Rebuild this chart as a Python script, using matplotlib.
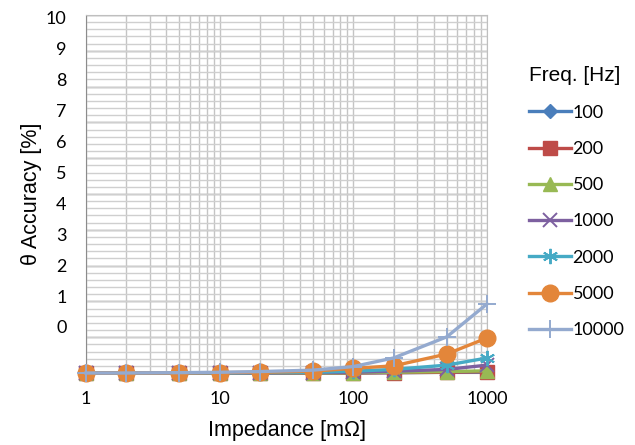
import numpy as np
import matplotlib
matplotlib.use("Agg")
import matplotlib.pyplot as plt
from matplotlib.ticker import LogLocator, MultipleLocator, NullFormatter

# impedance points [mOhm]
impedance = [1, 2, 5, 10, 20, 50, 100, 200, 500, 1000]

# theta accuracy [%] for each frequency
freqs = ["100", "200", "500", "1000", "2000", "5000", "10000"]
acc_100 = [0, 0, 0, 0, 0, 0, 0, 0.01, 0.02, 0.03]
acc_200 = [0, 0, 0, 0, 0, 0, 0, 0.01, 0.02, 0.04]
acc_500 = [0, 0, 0, 0, 0, 0, 0.01, 0.02, 0.04, 0.06]
acc_1000 = [0, 0, 0, 0, 0, 0.01, 0.02, 0.05, 0.1, 0.22]
acc_2000 = [0, 0, 0, 0, 0.01, 0.02, 0.05, 0.1, 0.22, 0.42]
acc_5000 = [0, 0, 0, 0.01, 0.02, 0.05, 0.13, 0.2, 0.53, 0.98]
acc_10000 = [0, 0, 0.01, 0.02, 0.04, 0.08, 0.18, 0.42, 1.01, 1.93]
series = [acc_100, acc_200, acc_500, acc_1000, acc_2000, acc_5000, acc_10000]

y_labels = ["0", "1", "2", "3", "4", "5", "6", "7", "8", "9", "10"]

colors = ["#4A7EBB", "#BE4B48", "#98B954", "#7D60A0", "#46AAC5", "#E3863A", "#94AACF"]
markers = ["D", "s", "^", "x", (6, 2, 0), "o", "+"]
msizes = [7, 10, 10, 10, 11, 12, 13]

tick_font = "Lato"
label_font = "Liberation Sans"

fig = plt.figure(figsize=(6.35, 4.45), dpi=100)
ax = fig.add_axes([0.1354, 0.1618, 0.6316, 0.8045])

for vals, name, c, m, ms in zip(series, freqs, colors, markers, msizes):
    kw = dict(marker=m, markersize=ms, color=c, linewidth=2.4, label=name, clip_on=False, zorder=3)
    if m in ("x", "+") or isinstance(m, tuple):
        kw["markeredgewidth"] = 1.4
    ax.plot(impedance, vals, **kw)

ax.set_xscale("log")
ax.set_xlim(1, 1000)
ax.set_ylim(0, 10)

ax.xaxis.set_major_locator(LogLocator(base=10))
ax.xaxis.set_minor_locator(LogLocator(base=10, subs=np.arange(2, 10)))
ax.xaxis.set_minor_formatter(NullFormatter())
ax.set_xticks([1, 10, 100, 1000])
ax.set_xticklabels(["1", "10", "100", "1000"])

# y grid every 1 (major) and 0.2 (minor); labels sit slightly off the grid as in the original
ax.yaxis.set_minor_locator(MultipleLocator(0.2))
label_pos = np.linspace(1.285, 9.92, 11)
ax.set_yticks(label_pos)
ax.set_yticklabels(y_labels)
for v in range(0, 11):
    ax.axhline(v, color="#8C8C8C", linewidth=1.0, zorder=1)
ax.grid(True, which="minor", axis="y", color="#CFCFCF", linewidth=1.0, zorder=0)
ax.grid(True, which="both", axis="x", color="#C4C4C4", linewidth=1.0, zorder=0)

ax.tick_params(axis="both", which="both", length=0)
ax.tick_params(axis="x", pad=13)
ax.tick_params(axis="y", pad=14)
for lab in ax.get_xticklabels() + ax.get_yticklabels():
    lab.set_fontfamily(tick_font)
    lab.set_fontsize(13)

for s in ["top", "right"]:
    ax.spines[s].set_color("#BFBFBF")
for s in ["left", "bottom"]:
    ax.spines[s].set_color("#8C8C8C")

ax.set_xlabel("Impedance [m\u03a9]", family=label_font, fontsize=15.5, labelpad=9)
ax.set_ylabel("\u03b8 Accuracy [%]", family=label_font, fontsize=15.5, labelpad=3)

leg = fig.legend(loc="upper left", bbox_to_anchor=(0.822, 0.869), frameon=False,
                 title="Freq. [Hz]", handlelength=2.3, handletextpad=0.1,
                 labelspacing=1.12, borderaxespad=0,
                 prop={"family": tick_font, "size": 13})
leg.get_title().set_fontfamily(label_font)
leg.get_title().set_fontsize(15)
leg._legend_box.align = "left"

fig.savefig("out.png", dpi=100)
